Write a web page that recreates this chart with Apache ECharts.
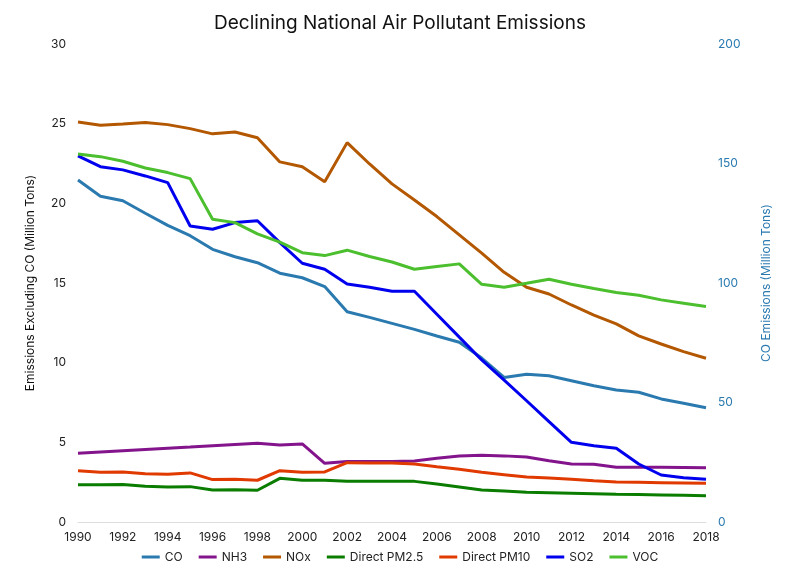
<!DOCTYPE html>
<html><head><meta charset="utf-8">
<script src="https://cdn.jsdelivr.net/npm/echarts@6/dist/echarts.min.js"></script>
<style>html,body{margin:0;padding:0;background:#fff}#c{width:800px;height:580px}</style>
</head><body><div id="c"></div>
<script>
const years = ['1990','1991','1992','1993','1994','1995','1996','1997','1998','1999','2000','2001','2002','2003','2004','2005','2006','2007','2008','2009','2010','2011','2012','2013','2014','2015','2016','2017','2018'];
const CO   = [143.1,136.3,134.4,129.2,124.1,119.8,114.1,111.0,108.5,104.1,102.2,98.5,88.0,85.6,83.1,80.6,77.8,75.2,68.6,60.5,61.8,61.2,59.1,57.0,55.2,54.3,51.5,49.7,47.8];
const NH3  = [4.31,4.39,4.47,4.55,4.63,4.70,4.78,4.86,4.94,4.83,4.90,3.68,3.79,3.80,3.80,3.83,4.00,4.14,4.19,4.15,4.08,3.85,3.64,3.63,3.43,3.43,3.43,3.42,3.41];
const NOx  = [25.1,24.9,24.98,25.07,24.94,24.69,24.36,24.48,24.12,22.6,22.3,21.36,23.81,22.47,21.22,20.21,19.17,18.02,16.87,15.67,14.73,14.31,13.62,12.99,12.43,11.68,11.17,10.69,10.28];
const PM25 = [2.34,2.34,2.36,2.24,2.20,2.22,2.01,2.02,1.99,2.74,2.62,2.62,2.55,2.55,2.55,2.55,2.39,2.20,2.01,1.95,1.86,1.83,1.80,1.77,1.74,1.72,1.70,1.68,1.65];
const PM10 = [3.22,3.12,3.14,3.03,2.99,3.08,2.66,2.68,2.62,3.22,3.12,3.14,3.72,3.71,3.70,3.64,3.47,3.31,3.12,2.97,2.82,2.76,2.68,2.59,2.51,2.49,2.47,2.45,2.43];
const SO2  = [22.98,22.3,22.1,21.72,21.3,18.58,18.37,18.79,18.91,17.53,16.24,15.86,14.94,14.73,14.48,14.48,13.04,11.6,10.17,8.91,7.61,6.3,5.0,4.79,4.63,3.64,2.95,2.78,2.68];
const VOC  = [23.1,22.93,22.64,22.22,21.93,21.55,19.0,18.79,18.08,17.56,16.9,16.72,17.06,16.66,16.32,15.86,16.03,16.2,14.92,14.73,14.98,15.24,14.92,14.65,14.4,14.23,13.94,13.73,13.52];

const FONT = 'Inter, "Noto Sans", sans-serif';
function s(name, data, color, yIdx){
  return {name, type:'line', data, yAxisIndex:yIdx||0, showSymbol:false, symbol:'none',
    lineStyle:{width:3, color}, itemStyle:{color}};
}
const chart = echarts.init(document.getElementById('c'), null, {renderer:'canvas'});
chart.setOption({
  animation:false,
  textStyle:{fontFamily:FONT},
  title:{text:'Declining National Air Pollutant Emissions', left:'center', top:9,
    textStyle:{fontFamily:FONT, fontWeight:'normal', fontSize:19, color:'#111'}},
  legend:{bottom:12, left:'center', icon:'rect', itemWidth:18, itemHeight:3, itemGap:16,
    textStyle:{fontFamily:FONT, fontSize:12, color:'#222'},
    data:['CO','NH3','NOx','Direct PM2.5','Direct PM10','SO2','VOC']},
  grid:{left:78, right:94, top:44, bottom:58},
  xAxis:{type:'category', data:years, boundaryGap:false,
    axisLine:{lineStyle:{color:'#ddd'}}, axisTick:{show:false},
    axisLabel:{interval:1, color:'#222', fontSize:12, margin:9, fontFamily:FONT}},
  yAxis:[
    {type:'value', min:0, max:30, interval:5, position:'left',
     name:'Emissions Excluding CO (Million Tons)', nameLocation:'middle', nameGap:42,
     nameTextStyle:{color:'#111', fontSize:12, fontFamily:FONT},
     axisLine:{show:false}, axisTick:{show:false}, splitLine:{show:false},
     axisLabel:{color:'#222', fontSize:12, margin:12, fontFamily:FONT}},
    {type:'value', min:0, max:200, interval:50, position:'right',
     name:'CO Emissions (Million Tons)', nameLocation:'middle', nameGap:54, nameRotate:90,
     nameTextStyle:{color:'#2a7ab0', fontSize:12, fontFamily:FONT},
     axisLine:{show:false}, axisTick:{show:false}, splitLine:{show:false},
     axisLabel:{color:'#2a7ab0', fontSize:12, margin:12, fontFamily:FONT}}
  ],
  series:[
    s('CO', CO, '#2a7ab0', 1),
    s('NH3', NH3, '#83148c'),
    s('NOx', NOx, '#b35800'),
    s('Direct PM2.5', PM25, '#0a7d00'),
    s('Direct PM10', PM10, '#e03a00'),
    s('SO2', SO2, '#0000ee'),
    s('VOC', VOC, '#4cbf2e')
  ]
});
</script></body></html>
